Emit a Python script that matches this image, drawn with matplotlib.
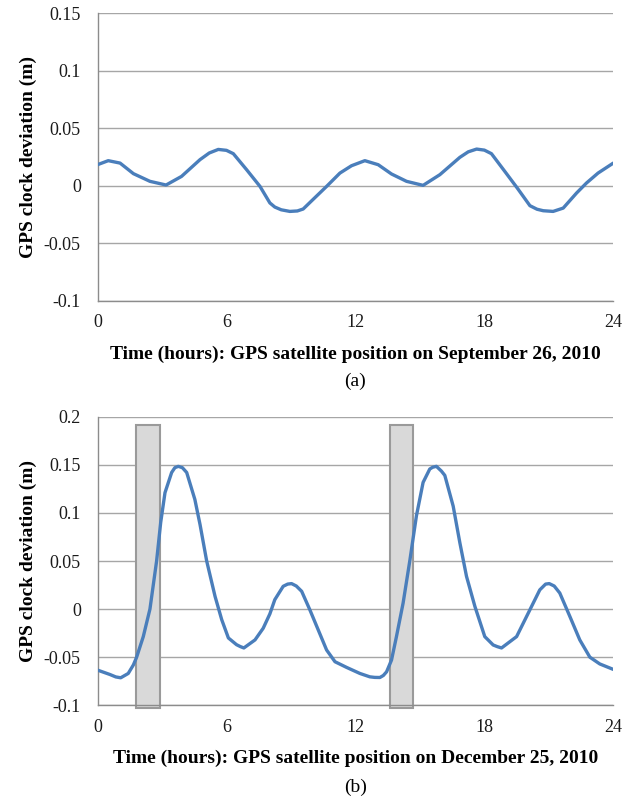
import matplotlib
matplotlib.use("Agg")
import matplotlib.pyplot as plt
from matplotlib.patches import Rectangle

# ---- data (a) ----
hours_a = [0, 0.5, 1.05, 1.67, 2.44, 3.19, 3.91, 4.77, 5.2, 5.62, 6.0, 6.32, 6.94, 7.56,
           8.02, 8.25, 8.55, 8.95, 9.3, 9.57, 10.1, 10.66, 11.28, 11.82, 12.44, 13.06,
           13.68, 14.38, 15.15, 15.93, 16.86, 17.25, 17.64, 18.0, 18.33, 18.95, 19.53,
           20.12, 20.45, 20.74, 21.2, 21.67, 22.29, 22.75, 23.29, 24.0]
dev_a = [0.0183, 0.0218, 0.0197, 0.0105, 0.0038, 0.0006, 0.0081, 0.0227, 0.0285, 0.0316,
         0.0308, 0.0279, 0.0139, -0.0006, -0.0150, -0.0186, -0.0210, -0.0224, -0.0220,
         -0.0203, -0.0107, -0.0006, 0.0110, 0.0174, 0.0218, 0.0183, 0.0102, 0.0038,
         0.0003, 0.0096, 0.0247, 0.0295, 0.0319, 0.0310, 0.0279, 0.0125, -0.0020,
         -0.0174, -0.0205, -0.0218, -0.0224, -0.0195, -0.0064, 0.0023, 0.0110, 0.0197]

# ---- data (b) ----
hours_b = [0, 0.58, 0.85, 1.08, 1.43, 1.67, 1.82, 2.13, 2.44, 2.75, 2.94, 3.14, 3.45,
           3.6, 3.76, 3.95, 4.15, 4.53, 4.77, 5.08, 5.47, 5.78, 6.09, 6.47, 6.65, 6.81,
           7.33, 7.71, 8.02, 8.25, 8.64, 8.85, 9.03, 9.25, 9.5, 9.88, 10.27, 10.66, 11.05,
           11.59, 12.21, 12.67, 12.9, 13.14, 13.3, 13.45, 13.68, 13.91, 14.22, 14.53,
           14.84, 15.15, 15.46, 15.6, 15.77, 16.0, 16.16, 16.55, 16.86, 17.17, 17.56,
           18.02, 18.41, 18.6, 18.8, 19.5, 20.12, 20.58, 20.85, 21.02, 21.25, 21.51,
           21.98, 22.44, 22.91, 23.37, 24.0]
dev_b = [-0.0634, -0.068, -0.0705, -0.0714, -0.0669, -0.058, -0.050, -0.0286, 0.0,
         0.050, 0.090, 0.121, 0.142, 0.1470, 0.1484, 0.1470, 0.142, 0.114, 0.088, 0.050,
         0.0132, -0.011, -0.030, -0.037, -0.0390, -0.0404, -0.032, -0.0199, -0.005,
         0.0098, 0.0237, 0.0260, 0.0265, 0.0240, 0.0185, -0.0007, -0.0216, -0.0425,
         -0.0547, -0.0606, -0.0669, -0.0704, -0.0710, -0.0711, -0.0690, -0.0652, -0.053,
         -0.0286, 0.0063, 0.050, 0.097, 0.1317, 0.1456, 0.1475, 0.1484, 0.1435, 0.139,
         0.107, 0.069, 0.034, 0.0028, -0.0286, -0.0373, -0.0390, -0.0404, -0.0286,
         -0.0007, 0.020, 0.0260, 0.0265, 0.0240, 0.0167, -0.0077, -0.032, -0.050, -0.057,
         -0.0627]

shade_start = [1.8, 13.6]
shade_end = [2.9, 14.7]
shade_top = 0.191
shade_bottom = -0.103

x_ticks = [0, 6, 12, 18, 24]
yticks_a = [-0.1, -0.05, 0, 0.05, 0.1, 0.15]
yticklabels_a = ["-0.1", "-0.05", "0", "0.05", "0.1", "0.15"]
yticks_b = [-0.1, -0.05, 0, 0.05, 0.1, 0.15, 0.2]
yticklabels_b = ["-0.1", "-0.05", "0", "0.05", "0.1", "0.15", "0.2"]

xlabel_a = "Time (hours): GPS satellite position on September 26, 2010"
xlabel_b = "Time (hours): GPS satellite position on December 25, 2010"
ylabel = "GPS clock deviation (m)"

SERIF = ["Liberation Serif", "DejaVu Serif"]
LINE_C = "#4a7ebb"
GRID_C = "#a6a6a6"
AX_C = "#8c8c8c"

W, H = 642, 802
fig = plt.figure(figsize=(W / 100, H / 100), dpi=100)

def px_rect(l, t, r, b):
    return [l / W, 1 - b / H, (r - l) / W, (b - t) / H]

ax_a = fig.add_axes(px_rect(97.5, 13.5, 613.3, 300.5))
ax_b = fig.add_axes(px_rect(97.5, 416.7, 613.3, 705.3))

def style(ax, yticks, ylabels, ylim):
    ax.set_xlim(0, 24)
    ax.set_ylim(*ylim)
    ax.set_xticks(x_ticks)
    ax.set_xticklabels([str(t) for t in x_ticks], family=SERIF, fontsize=13)
    ax.set_yticks(yticks)
    ax.set_yticklabels(ylabels, family=SERIF, fontsize=13)
    ax.tick_params(axis="both", length=0, colors="#1a1a1a")
    ax.tick_params(axis="y", pad=12)
    ax.tick_params(axis="x", pad=10)
    for s in ("top", "right"):
        ax.spines[s].set_visible(False)
    for s in ("left", "bottom"):
        ax.spines[s].set_color(AX_C)
        ax.spines[s].set_linewidth(1.0)
    ax.yaxis.grid(True, color=GRID_C, linewidth=1.0)
    ax.set_axisbelow(True)
    ax.set_ylabel(ylabel, family=SERIF, fontsize=14, fontweight="bold")
    ax.yaxis.set_label_coords(-0.117, 0.5)

style(ax_a, yticks_a, yticklabels_a, (-0.1, 0.15))
style(ax_b, yticks_b, yticklabels_b, (-0.1, 0.2))

ax_a.plot(hours_a, dev_a, color=LINE_C, linewidth=2.4, solid_joinstyle="round",
          solid_capstyle="round", zorder=3)

for s, e in zip(shade_start, shade_end):
    ax_b.add_patch(Rectangle((s, shade_bottom), e - s, shade_top - shade_bottom,
                             facecolor="#d9d9d9", edgecolor="#9a9a9a", linewidth=1.5,
                             clip_on=False, zorder=2))
ax_b.plot(hours_b, dev_b, color=LINE_C, linewidth=2.4, solid_joinstyle="round",
          solid_capstyle="round", zorder=3)

cx = (97.5 + 613.3) / 2 / W
fig.text(cx, 1 - 354 / H, xlabel_a, ha="center", va="center", family=SERIF,
         fontsize=14, fontweight="bold")
fig.text(cx, 1 - 381 / H, "(a)", ha="center", va="center", family=SERIF, fontsize=14)
fig.text(cx, 1 - 758 / H, xlabel_b, ha="center", va="center", family=SERIF,
         fontsize=14, fontweight="bold")
fig.text(cx, 1 - 787 / H, "(b)", ha="center", va="center", family=SERIF, fontsize=14)

fig.savefig("out.png", dpi=100)
